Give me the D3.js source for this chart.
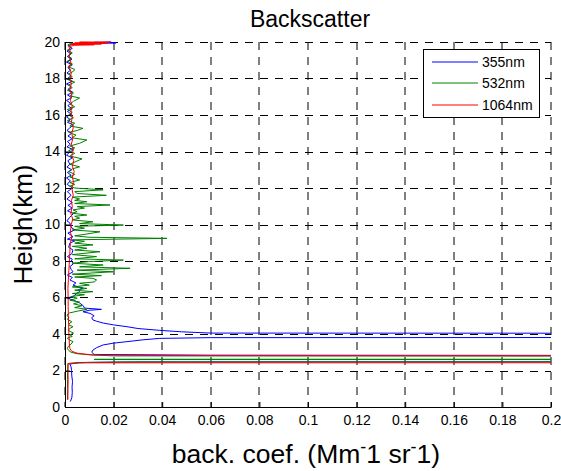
<!DOCTYPE html>
<html>
<head>
<meta charset="utf-8">
<script src="https://cdnjs.cloudflare.com/ajax/libs/d3/7.8.5/d3.min.js"></script>
<style>
body { margin: 0; background: #fff; }
text { font-family: "Liberation Sans", Arial, sans-serif; fill: #000; }
</style>
</head>
<body>
<div id="chart"></div>
<script>
// backscatter profiles, [height km, coef]
var profile355 = [[0.3,0.0022],[0.5,0.0028],[0.8,0.0030],[1.1,0.0029],[1.4,0.0031],[1.7,0.0028],[2.0,0.0027],[2.2,0.0025],[2.35,0.0020],
  [2.44,0.006],[2.47,0.032],[2.49,0.6],[2.80,0.6],[2.84,0.06],[2.88,0.012],[3.0,0.011],[3.12,0.0115],[3.25,0.013],[3.4,0.0157],[3.5,0.020],
  [3.58,0.0255],[3.68,0.032],[3.76,0.039],[3.80,0.06],[3.82,0.5],[4.03,0.5],[4.05,0.06],[4.12,0.048],[4.2,0.039],[4.3,0.030],
  [4.4,0.0255],[4.5,0.020],[4.6,0.0157],[4.7,0.013],[4.77,0.0115],[4.9,0.011],[5.0,0.012],[5.13,0.0103],[5.22,0.0074],[5.3,0.010],
  [5.35,0.015],[5.42,0.008],[5.55,0.0075],[5.7,0.006],[5.86,0.0033],[5.97,0.001],[6.1,0.004],[6.2,0.0045],[6.32,0.006],[6.42,0.0055],
  [6.52,0.0074],[6.6,0.005],[6.68,0.0033],[6.8,0.0045],[6.96,0.002],[7.1,0.003],[7.23,0.001],[7.41,0.0033],[7.55,0.0025],[7.69,0.002],
  [7.85,0.0035],[8.0,0.0025],[8.1,0.003],[8.24,0.001],[8.4,0.0028],[8.6,0.0033],[8.75,0.0015],[8.98,0.002],[9.1,0.004],[9.2,0.001],
  [9.33,0.0033],[9.53,0.0012],[9.7,0.004],[9.85,0.0025],[10.08,0.002],[10.2,0.0008],[10.4,0.002],[10.6,0.0035],[10.75,0.001],[10.9,0.003],
  [11.05,0.0012],[11.2,0.003],[11.4,0.0008],[11.6,0.0025],[11.8,0.001],[12.0,0.003],[12.2,0.0009],[12.4,0.0022],[12.55,0.0006],[12.7,0.0025],
  [12.85,0.001],[13.0,0.0028],[13.15,0.0008],[13.3,0.002],[13.5,0.0012],[13.65,0.003],[13.8,0.0006],[13.95,0.0018],[14.1,0.0035],[14.25,0.0008],
  [14.4,0.0022],[14.55,0.001],[14.7,0.003],[14.85,0.0012],[15.0,0.0028],[15.15,0.0008],[15.3,0.002],[15.45,0.0035],[15.6,0.001],[15.75,0.0022],
  [15.9,0.0006],[16.05,0.0025],[16.2,0.001],[16.35,0.003],[16.5,0.0012],[16.65,0.0022],[16.8,0.0006],[16.95,0.0028],[17.1,0.001],[17.25,0.0032],
  [17.4,0.0012],[17.55,0.0025],[17.7,0.0006],[17.85,0.003],[18.0,0.001],[18.15,0.0025],[18.3,0.0008],[18.45,0.0022],[18.6,0.0012],[18.75,0.003],
  [18.9,0.0006],[19.05,0.0028],[19.2,0.001],[19.35,0.0025],[19.5,0.0008],[19.65,0.003],[19.8,0.0012],[19.9,0.004],[19.95,0.021],[19.98,0.012],[20.0,0.019]];

var profile532 = [[0.4,0.0010],[1.0,0.0011],[1.5,0.0010],[2.0,0.0011],[2.38,0.0012],[2.44,0.009],[2.47,0.024],[2.49,0.9],[2.58,0.9],
  [2.61,0.012],[2.64,0.9],[2.76,0.9],[2.80,0.02],[2.86,0.01],[2.92,0.005],[3.0,0.0025],[3.1,0.0015],[3.2,0.001],[3.3,0.0012],[3.45,0.0025],
  [3.58,0.0033],[3.7,0.0015],[3.78,0.001],[3.87,0.003],[3.95,0.002],[4.05,0.0035],[4.15,0.002],[4.22,0.0012],[4.32,0.0022],[4.4,0.0033],
  [4.5,0.0015],[4.6,0.002],[4.67,0.0028],[4.8,0.001],[4.9,0.0015],[5.04,0.0008],[5.15,0.0018],[5.25,0.005],[5.35,0.009],[5.45,0.004],
  [5.55,0.007],[5.65,0.0035],[5.75,0.006],[5.85,0.002],[5.96,0.005],[6.05,0.0025],[6.15,0.008],[6.22,0.003],[6.32,0.0115],[6.4,0.004],
  [6.5,0.009],[6.58,0.003],[6.68,0.01],[6.78,0.006],[6.85,0.012],[6.96,0.013],[7.05,0.0115],[7.12,0.004],[7.2,0.015],[7.28,0.003],
  [7.41,0.0198],[7.5,0.005],[7.6,0.0268],[7.68,0.006],[7.78,0.0157],[7.88,0.003],[7.97,0.01],[8.05,0.024],[8.12,0.004],[8.24,0.013],
  [8.35,0.003],[8.51,0.0144],[8.6,0.004],[8.7,0.009],[8.8,0.003],[8.88,0.0115],[8.98,0.004],[9.08,0.008],[9.16,0.003],[9.24,0.042],
  [9.3,0.01],[9.38,0.004],[9.48,0.009],[9.6,0.0144],[9.7,0.003],[9.8,0.008],[9.9,0.004],[9.97,0.024],[10.05,0.006],[10.15,0.0115],
  [10.25,0.003],[10.35,0.006],[10.45,0.004],[10.52,0.009],[10.62,0.003],[10.7,0.005],[10.8,0.0033],[10.9,0.008],[10.98,0.005],[11.07,0.0185],
  [11.15,0.004],[11.25,0.009],[11.32,0.004],[11.4,0.006],[11.5,0.003],[11.6,0.017],[11.7,0.005],[11.8,0.004],[11.9,0.0157],[12.0,0.004],
  [12.1,0.002],[12.2,0.004],[12.3,0.002],[12.44,0.006],[12.6,0.002],[12.75,0.004],[12.9,0.0015],[13.05,0.003],[13.16,0.006],[13.3,0.002],
  [13.45,0.0045],[13.6,0.007],[13.75,0.002],[13.9,0.004],[14.05,0.0015],[14.2,0.004],[14.3,0.002],[14.45,0.006],[14.63,0.009],[14.75,0.003],
  [14.9,0.0045],[15.05,0.0015],[15.15,0.005],[15.27,0.0074],[15.4,0.002],[15.55,0.004],[15.7,0.001],[15.85,0.0035],[16.0,0.0015],[16.15,0.003],
  [16.3,0.001],[16.45,0.004],[16.6,0.002],[16.75,0.0035],[16.93,0.006],[17.05,0.002],[17.2,0.0035],[17.35,0.001],[17.5,0.003],[17.65,0.0015],
  [17.8,0.004],[17.95,0.001],[18.1,0.003],[18.25,0.0015],[18.4,0.0035],[18.5,0.004],[18.65,0.0012],[18.8,0.003],[18.95,0.001],[19.1,0.0028],
  [19.25,0.0012],[19.4,0.003],[19.55,0.001],[19.7,0.0025],[19.85,0.0012],[19.95,0.003]];

var profile1064 = [[0.4,0.0012],[1.0,0.0012],[1.5,0.0013],[2.0,0.0012],[2.38,0.0013],[2.42,0.004],[2.43,0.6],[2.78,0.6],[2.82,0.04],
  [2.85,0.012],[2.9,0.008],[2.95,0.005],[3.05,0.0028],[3.2,0.002],[3.5,0.0018],[4.0,0.0016],[4.5,0.0015],[5.0,0.0014],[5.5,0.0013],
  [6.0,0.0013],[6.5,0.0012],[7.0,0.0014],[7.5,0.0016],[8.0,0.0018],[8.5,0.002],[9.0,0.0022],[9.3,0.0028],[9.6,0.0022],[10.0,0.0026],
  [10.3,0.0032],[10.6,0.0024],[11.0,0.003],[11.3,0.0026],[11.6,0.0034],[12.0,0.0028],[12.3,0.0036],[12.6,0.003],[12.9,0.0038],[13.2,0.003],
  [13.5,0.0036],[13.8,0.0028],[14.1,0.0034],[14.4,0.0026],[14.7,0.0032],[15.0,0.0028],[15.3,0.0034],[15.6,0.0026],[15.9,0.003],[16.2,0.0024],
  [16.5,0.003],[16.8,0.0022],[17.1,0.0028],[17.4,0.002],[17.7,0.0026],[18.0,0.002],[18.3,0.0026],[18.6,0.0018],[18.9,0.0024],[19.2,0.0018],
  [19.5,0.0022],[19.75,0.0016],[19.82,0.004],[19.85,0.012],[19.87,0.002],[19.89,0.015],[19.91,0.003],[19.93,0.017],[19.95,0.004],
  [19.97,0.018],[19.99,0.006],[20.0,0.019]];

var seriesNames = ["355nm", "532nm", "1064nm"];
var xTicks = [0, 0.02, 0.04, 0.06, 0.08, 0.1, 0.12, 0.14, 0.16, 0.18, 0.2];
var yTicks = [0, 2, 4, 6, 8, 10, 12, 14, 16, 18, 20];

var colors = ["#0000ff", "#008000", "#ff0000"];
var width = 561, height = 471;
var margin = {top: 42, right: 10, bottom: 64, left: 65};
var plotW = width - margin.left - margin.right;
var plotH = height - margin.top - margin.bottom;

var svg = d3.select("#chart").append("svg")
    .attr("width", width)
    .attr("height", height)
    .style("background", "#fff");

var x = d3.scaleLinear().domain([0, 0.2]).range([0, plotW]);
var y = d3.scaleLinear().domain([0, 20]).range([plotH, 0]);

var g = svg.append("g")
    .attr("transform", "translate(" + margin.left + "," + margin.top + ")");

svg.append("defs").append("clipPath").attr("id", "clip")
  .append("rect").attr("y", -2).attr("width", plotW).attr("height", plotH + 2);

// dashed grid (verticals land between pixels, like the grey ones in the original)
g.selectAll("line.vgrid").data(xTicks).enter().append("line")
    .attr("class", "vgrid")
    .attr("x1", function(d) {return Math.round(x(d));})
    .attr("x2", function(d) {return Math.round(x(d));})
    .attr("y1", 0).attr("y2", plotH)
    .attr("stroke", "#000").attr("stroke-dasharray", "8,7");
g.selectAll("line.hgrid").data(yTicks).enter().append("line")
    .attr("class", "hgrid")
    .attr("y1", function(d) {return Math.round(y(d)) + 0.5;})
    .attr("y2", function(d) {return Math.round(y(d)) + 0.5;})
    .attr("x1", 0).attr("x2", plotW)
    .attr("stroke", "#000").attr("stroke-dasharray", "8,7");

// profiles
var line = d3.line()
    .x(function(d) {return x(d[1]);})
    .y(function(d) {return y(d[0]);});
var plots = g.append("g").attr("clip-path", "url(#clip)");
[profile355, profile532, profile1064].forEach(function(p, i) {
  plots.append("path")
    .datum(p)
    .attr("d", line)
    .attr("fill", "none")
    .attr("stroke", colors[i])
    .attr("stroke-width", 1);
});

// axes
var xAxis = g.append("g")
    .attr("transform", "translate(0," + plotH + ")")
    .call(d3.axisBottom(x).tickValues(xTicks).tickFormat(d3.format("~g"))
          .tickSizeInner(-5).tickSizeOuter(0).tickPadding(8));
var yAxis = g.append("g")
    .call(d3.axisLeft(y).tickValues(yTicks).tickFormat(d3.format("d"))
          .tickSizeInner(-5).tickSizeOuter(0).tickPadding(5));
[xAxis, yAxis].forEach(function(a) {
  a.selectAll("text").style("font-size", "14px").attr("font-family", null);
  a.selectAll("line").attr("stroke", "#000");
  a.select(".domain").attr("stroke", "#000");
});

// legend
var legend = g.append("g").attr("transform", "translate(" + (423 - margin.left) + "," + (49 - margin.top) + ")");
legend.append("rect").attr("x", 0.5).attr("y", 0.5).attr("width", 116).attr("height", 68)
    .attr("fill", "#fff").attr("stroke", "#000");
seriesNames.forEach(function(name, i) {
  var ly = Math.round(13 + i * 21.3);
  legend.append("line")
    .attr("x1", 9).attr("x2", 55).attr("y1", ly).attr("y2", ly)
    .attr("stroke", colors[i]);
  legend.append("text")
    .attr("x", 59).attr("y", ly).attr("dy", "0.35em")
    .style("font-size", "14px").text(name);
});

// titles
svg.append("text")
    .attr("x", margin.left + plotW / 2 + 2).attr("y", 27)
    .attr("text-anchor", "middle").style("font-size", "23px")
    .text("Backscatter");

var xl = svg.append("text")
    .attr("x", margin.left + plotW / 2 - 2).attr("y", 463)
    .attr("text-anchor", "middle").style("font-size", "26.5px");
xl.append("tspan").text("back. coef. (Mm");
xl.append("tspan").attr("baseline-shift", "55%").style("font-size", "18px").text("-");
xl.append("tspan").text("1 sr");
xl.append("tspan").attr("baseline-shift", "55%").style("font-size", "18px").text("-");
xl.append("tspan").text("1)");

svg.append("text")
    .attr("transform", "translate(32," + (margin.top + plotH / 2) + ") rotate(-90)")
    .attr("text-anchor", "middle").style("font-size", "26px")
    .text("Heigh(km)");
</script>
</body>
</html>
